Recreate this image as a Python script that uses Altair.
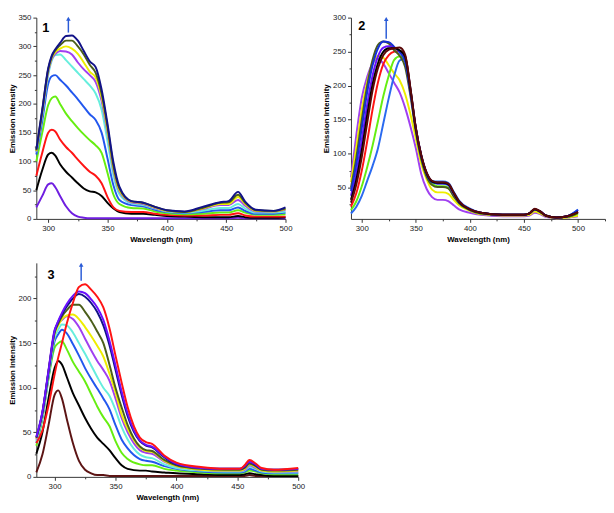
import altair as alt
import pandas as pd

# ---------------- Panel 1 ----------------
P1_WL = [290, 295, 300, 303, 306, 310, 315, 320, 325, 330, 335, 340, 345, 350, 355,
         360, 370, 380, 390, 400, 415, 430, 445, 452, 460, 466, 475, 490, 500]
P1_VIOLET = [20, 40, 60, 62, 55, 40, 22, 10, 4, 2, 1, 1, 1, 1, 1, 1, 1, 1, 1, 1, 1, 1, 1, 1, 2, 1, 1, 1, 1]
P1_BLACK = [50, 85, 112, 115, 110, 95, 82, 72, 62, 53, 48, 46, 40, 28, 18, 12, 9, 9, 7, 5, 4, 3, 3, 3, 5, 3, 2, 2, 3]
P1_RED = [75, 115, 150, 155, 152, 138, 125, 115, 103, 92, 82, 75, 62, 38, 20, 14, 12, 12, 9, 7, 6, 6, 7, 7, 10, 6, 4, 4, 4]
P1_GREEN = [100, 150, 198, 210, 213, 200, 183, 170, 158, 147, 137, 128, 115, 80, 42, 26, 19, 18, 13, 10, 8, 9, 11, 11, 15, 11, 7, 7, 8]
P1_BLUE = [112, 170, 235, 248, 250, 242, 232, 220, 208, 195, 182, 172, 150, 105, 58, 33, 24, 22, 16, 12, 10, 12, 15, 15, 20, 14, 9, 9, 11]
P1_CYAN = [116, 180, 250, 275, 285, 286, 276, 265, 254, 243, 232, 218, 190, 135, 75, 43, 27, 24, 18, 13, 11, 14, 19, 19, 26, 18, 11, 11, 13]
P1_PURPLE = [117, 185, 255, 278, 287, 292, 291, 286, 272, 260, 250, 238, 205, 150, 84, 48, 29, 26, 19, 14, 12, 17, 24, 24, 33, 23, 13, 13, 16]
P1_YELLOW = [118, 187, 258, 280, 290, 296, 300, 296, 287, 272, 256, 246, 212, 155, 88, 50, 30, 27, 20, 14, 12, 18, 26, 26, 38, 26, 14, 13, 17]
P1_OLIVE = [119, 188, 260, 282, 293, 302, 310, 310, 300, 286, 268, 254, 218, 160, 92, 53, 31, 28, 21, 15, 12, 19, 28, 29, 42, 28, 15, 14, 18]
P1_NAVY = [121, 190, 262, 284, 295, 306, 318, 319, 310, 292, 274, 264, 225, 165, 98, 56, 31, 28, 21, 15, 13, 21, 29, 31, 47, 30, 16, 14, 20]
P1_SERIES = [P1_VIOLET, P1_BLACK, P1_RED, P1_GREEN, P1_BLUE, P1_CYAN, P1_PURPLE, P1_YELLOW, P1_OLIVE, P1_NAVY]
P1_COLORS = ["#6f1ee0", "#000000", "#ff1414", "#66ee11", "#2257ee", "#66eedd", "#a040f0", "#eeee00", "#4b5e1a", "#121288"]

# ---------------- Panel 2 ----------------
P2_WL = [290, 295, 300, 305, 310, 315, 320, 325, 330, 335, 340, 345, 350, 355, 360, 365,
         370, 375, 380, 385, 390, 400, 410, 430, 450, 455, 460, 465, 470, 480, 490, 500]
P2_PURPLE = [65, 128, 182, 213, 233, 240, 232, 218, 204, 190, 168, 140, 108, 70, 48, 36, 32, 32, 30, 24, 18, 13, 10, 8, 8, 9, 13, 11, 7, 5, 6, 8]
P2_YELLOW = [58, 110, 165, 205, 232, 244, 241, 230, 218, 208, 188, 158, 122, 85, 62, 47, 43, 43, 41, 32, 24, 16, 11, 9, 9, 10, 15, 12, 8, 5, 6, 9]
P2_GREEN = [17, 30, 52, 80, 112, 148, 185, 215, 238, 243, 238, 192, 134, 94, 68, 56, 52, 52, 50, 38, 28, 17, 12, 10, 10, 12, 18, 14, 9, 6, 7, 12]
P2_ROYAL = [12, 22, 38, 60, 82, 108, 145, 182, 215, 237, 240, 196, 138, 98, 72, 60, 59, 59, 57, 44, 31, 19, 13, 10, 10, 12, 18, 15, 9, 6, 8, 18]
P2_RED = [22, 42, 75, 118, 165, 205, 232, 245, 250, 251, 244, 195, 137, 97, 71, 59, 57, 57, 55, 42, 29, 18, 13, 10, 10, 12, 18, 15, 9, 6, 8, 14]
P2_OLIVE = [50, 95, 150, 200, 238, 260, 265, 262, 252, 244, 228, 185, 132, 92, 66, 54, 51, 51, 49, 37, 27, 17, 12, 10, 10, 12, 18, 14, 9, 6, 7, 13]
P2_VIOLET = [38, 72, 120, 172, 215, 243, 256, 258, 256, 251, 240, 192, 137, 97, 71, 59, 56, 56, 54, 41, 29, 18, 13, 10, 10, 12, 18, 15, 9, 6, 8, 15]
P2_BLUE = [45, 85, 138, 190, 230, 255, 265, 264, 257, 249, 236, 190, 136, 96, 70, 58, 56, 56, 54, 42, 29, 18, 13, 10, 10, 12, 18, 15, 9, 6, 8, 17]
P2_BLACK = [32, 62, 105, 157, 202, 233, 250, 255, 255, 252, 243, 194, 137, 97, 71, 59, 57, 57, 55, 42, 29, 18, 13, 10, 10, 12, 18, 15, 9, 6, 8, 14]
P2_MAROON = [28, 55, 95, 145, 193, 226, 245, 253, 255, 256, 246, 196, 138, 98, 72, 60, 58, 58, 56, 43, 30, 18, 13, 10, 10, 12, 19, 15, 9, 6, 8, 14]
P2_SERIES = [P2_PURPLE, P2_YELLOW, P2_GREEN, P2_ROYAL, P2_RED, P2_OLIVE, P2_VIOLET, P2_BLUE, P2_BLACK, P2_MAROON]
P2_COLORS = ["#a040f0", "#eeee00", "#66ee11", "#2a6af0", "#ff1414", "#4b5e1a", "#6a10ff", "#1530d8", "#000000", "#5a0808"]

# ---------------- Panel 3 ----------------
P3_WL = [285, 290, 295, 300, 303, 306, 310, 315, 320, 325, 330, 335, 340, 345, 350, 355,
         360, 370, 375, 380, 390, 400, 420, 440, 452, 456, 460, 465, 470, 480, 500]
P3_MAROON = [5, 25, 58, 92, 97, 88, 65, 38, 18, 8, 4, 2, 2, 1, 1, 1, 1, 1, 1, 1, 1, 1, 1, 1, 1, 1, 2, 1, 1, 1, 1]
P3_BLACK = [26, 50, 88, 122, 130, 126, 112, 94, 80, 66, 54, 44, 37, 30, 21, 13, 9, 7, 7, 6, 5, 4, 3, 2, 2, 3, 4, 3, 2, 1, 1]
P3_GREEN = [35, 65, 110, 145, 150, 152, 143, 129, 118, 107, 93, 79, 67, 57, 40, 27, 20, 14, 13, 13, 9, 7, 5, 4, 4, 5, 7, 6, 4, 3, 3]
P3_BLUE = [38, 67, 112, 152, 160, 165, 161, 149, 136, 122, 110, 99, 88, 76, 58, 42, 32, 20, 18, 17, 12, 9, 6, 5, 5, 6, 9, 7, 5, 4, 4]
P3_CYAN = [40, 68, 114, 156, 165, 171, 170, 162, 150, 138, 125, 112, 100, 91, 75, 56, 42, 25, 22, 21, 14, 10, 7, 6, 6, 7, 11, 9, 6, 5, 5]
P3_PURPLE = [42, 72, 120, 165, 172, 176, 180, 177, 168, 155, 142, 130, 120, 108, 88, 66, 50, 30, 27, 26, 17, 12, 8, 7, 7, 8, 13, 10, 7, 6, 6]
P3_YELLOW = [43, 71, 117, 160, 170, 177, 181, 182, 177, 168, 158, 147, 135, 116, 95, 70, 54, 33, 29, 28, 18, 12, 8, 7, 7, 9, 14, 11, 7, 6, 7]
P3_OLIVE = [44, 72, 118, 162, 172, 180, 187, 193, 193, 185, 175, 163, 150, 126, 100, 78, 58, 34, 30, 29, 19, 13, 9, 8, 8, 10, 15, 12, 8, 7, 8]
P3_NAVY = [44, 72, 118, 163, 174, 182, 191, 200, 205, 202, 195, 185, 170, 148, 120, 92, 68, 40, 35, 33, 22, 14, 10, 9, 9, 11, 17, 13, 9, 8, 9]
P3_VIOLET = [45, 73, 119, 164, 175, 184, 194, 203, 208, 206, 199, 190, 176, 153, 125, 96, 71, 41, 36, 34, 23, 15, 10, 9, 9, 12, 17, 14, 9, 8, 9]
P3_RED = [38, 52, 80, 115, 134, 150, 172, 195, 213, 216, 210, 202, 190, 167, 136, 106, 78, 44, 39, 37, 24, 16, 11, 9, 9, 13, 19, 15, 10, 8, 10]
P3_SERIES = [P3_MAROON, P3_BLACK, P3_GREEN, P3_BLUE, P3_CYAN, P3_PURPLE, P3_YELLOW, P3_OLIVE, P3_NAVY, P3_VIOLET, P3_RED]
P3_COLORS = ["#5c1414", "#000000", "#66ee11", "#2257ee", "#66eedd", "#a040f0", "#eeee00", "#4b5e1a", "#121288", "#6a10ff", "#ff1414"]

# tick positions (major every 50, minor in between)
P1_XTICKS = [300, 325, 350, 375, 400, 425, 450, 475, 500]
P2_XTICKS = [300, 325, 350, 375, 400, 425, 450, 475, 500, 525]
P3_XTICKS = [300, 325, 350, 375, 400, 425, 450, 475, 500]
P1_YTICKS = [0, 25, 50, 75, 100, 125, 150, 175, 200, 225, 250, 275, 300, 325, 350]
P2_YTICKS = [25, 50, 75, 100, 125, 150, 175, 200, 225, 250, 275, 300]
P3_YTICKS = [0, 25, 50, 75, 100, 125, 150, 175, 200, 225]

ARROW_COLOR = "#2a5bd7"
FONT = "Liberation Sans"
MAJOR_LABEL = "datum.value % 50 == 0 && datum.value <= 500 ? datum.label : ''"
TICK_SIZE = {"condition": {"test": "datum.value % 50 != 0", "value": 2}, "value": 3.5}


def panel(wl, series, colors, xdom, xticks, ydom, yticks, w, h, label, label_pos, arrow):
    rows = []
    for i, vals in enumerate(series):
        for x, v in zip(wl, vals):
            rows.append({"s": i, "w": x, "v": v})
    df = pd.DataFrame(rows)
    xenc = alt.X("w:Q", scale=alt.Scale(domain=xdom, nice=False, zero=False),
                 axis=alt.Axis(values=xticks, title="Wavelength (nm)",
                               labelExpr=MAJOR_LABEL, tickSize=TICK_SIZE))
    yenc = alt.Y("v:Q", scale=alt.Scale(domain=ydom, nice=False, zero=False),
                 axis=alt.Axis(values=yticks, title="Emission Intensity",
                               labelExpr=MAJOR_LABEL, tickSize=TICK_SIZE))
    base = alt.Chart(df)
    layers = []
    for i, c in enumerate(colors):
        layers.append(
            base.transform_filter(alt.datum.s == i)
            .mark_line(color=c, strokeWidth=2, interpolate="monotone")
            .encode(x=xenc, y=yenc)
        )
    lab = pd.DataFrame({"w": [label_pos[0]], "v": [label_pos[1]], "t": [label]})
    layers.append(
        alt.Chart(lab).mark_text(fontSize=13, fontWeight="bold", font=FONT, color="#000",
                                 baseline="middle", align="center")
        .encode(x=xenc, y=yenc, text="t:N")
    )
    ax, y0, y1 = arrow
    shaft = pd.DataFrame({"w": [ax], "v": [y0], "v2": [y1]})
    layers.append(
        alt.Chart(shaft).mark_rule(color=ARROW_COLOR, strokeWidth=1.5)
        .encode(x=xenc, y=yenc, y2="v2:Q")
    )
    head = pd.DataFrame({"w": [ax], "v": [y1]})
    layers.append(
        alt.Chart(head).mark_point(shape="triangle-up", filled=True, size=22,
                                   color=ARROW_COLOR, opacity=1)
        .encode(x=xenc, y=yenc)
    )
    return alt.layer(*layers).properties(width=w, height=h)


p1 = panel(P1_WL, P1_SERIES, P1_COLORS, [290, 500], P1_XTICKS, [0, 350], P1_YTICKS,
           255, 206, "1", (298, 332), (317, 324, 348))
p2 = panel(P2_WL, P2_SERIES, P2_COLORS, [290, 525], P2_XTICKS, [4, 300], P2_YTICKS,
           260, 206, "2", (300, 287), (322.6, 269, 298))
p3 = panel(P3_WL, P3_SERIES, P3_COLORS, [285, 500], P3_XTICKS, [0, 240], P3_YTICKS,
           268, 219, "3", (297, 226), (321.8, 220, 238))

chart = (
    alt.concat(p1, p2, p3, columns=2, spacing={"row": 45, "column": 54},
               bounds="flush", align="each")
    .properties(padding=0)
    .configure_view(stroke=None)
    .configure_axis(grid=False, domainColor="#333333", tickColor="#333333",
                    labelColor="#222222", titleColor="#000000",
                    labelFont=FONT, titleFont=FONT, labelFontSize=8, titleFontSize=8,
                    titleFontWeight="bold", labelPadding=2,
                    labelFlush=False, labelOverlap=False, domainWidth=1)
    .configure_axisY(titlePadding=2)
    .configure_axisX(titlePadding=4)
)

chart.save("out.html", embed_options={"renderer": "svg", "actions": False})
